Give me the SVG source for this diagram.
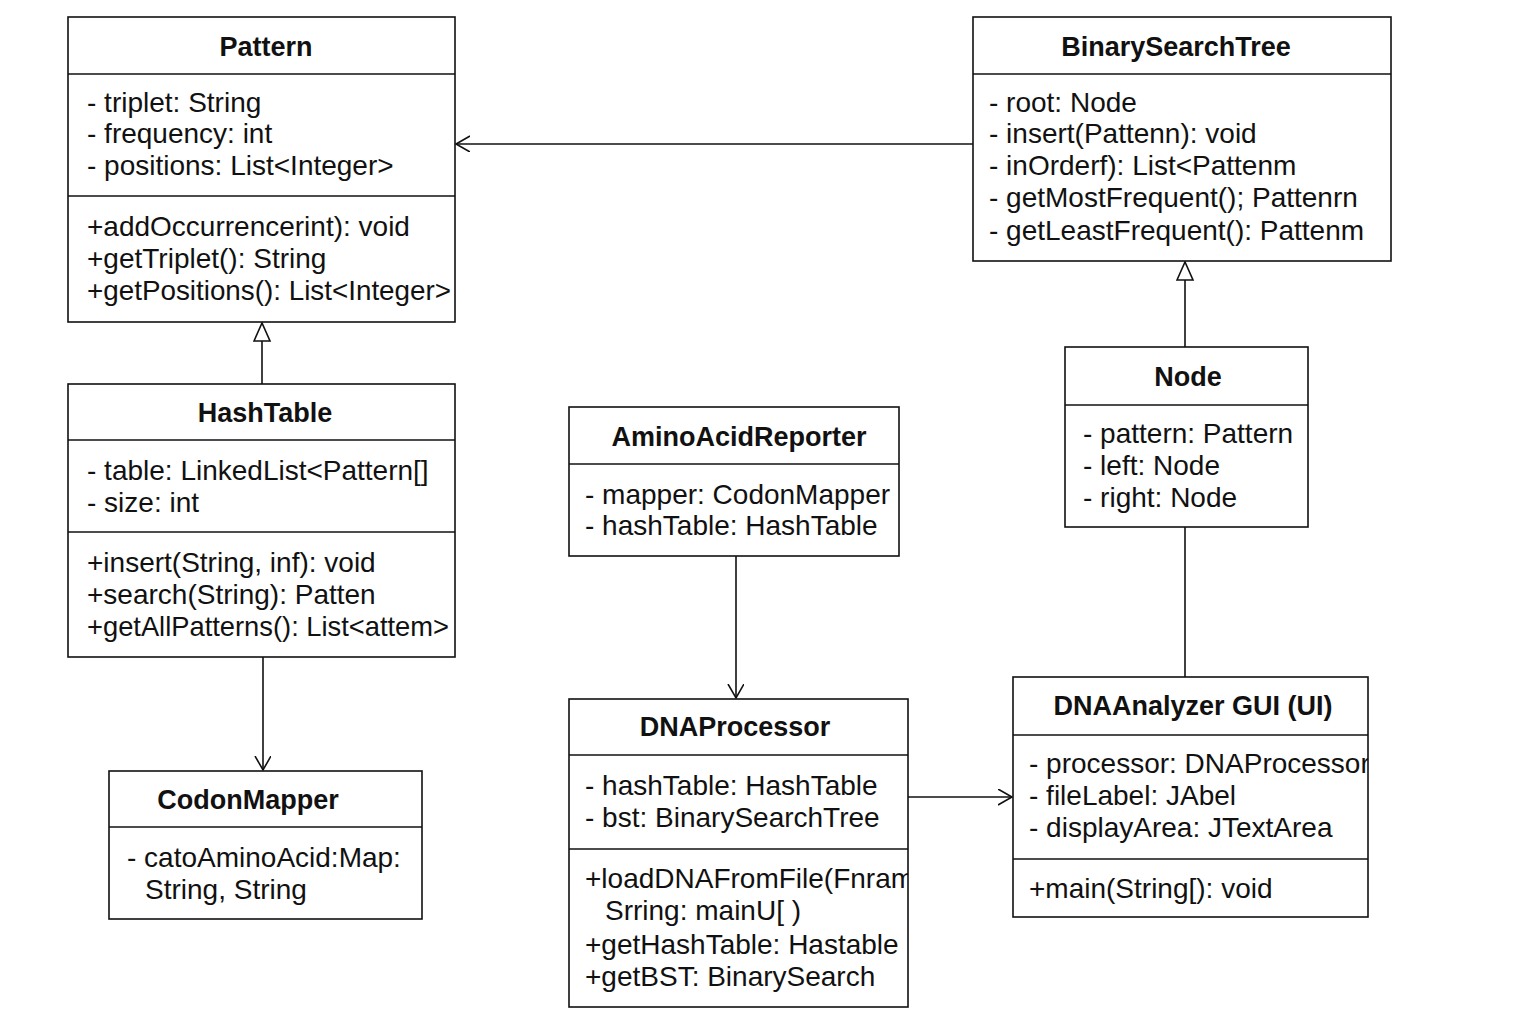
<svg xmlns="http://www.w3.org/2000/svg" width="1536" height="1024" viewBox="0 0 1536 1024">
<style>
.box{fill:#fff;stroke:#111;stroke-width:1.6}
.ln{stroke:#111;stroke-width:1.6}
.t{font-family:"Liberation Sans",Arial,sans-serif;font-size:28px;fill:#111;dominant-baseline:central}
.h{font-family:"Liberation Sans",Arial,sans-serif;font-size:27px;font-weight:bold;fill:#111;text-anchor:middle;dominant-baseline:central}
.c{fill:none;stroke:#111;stroke-width:1.6}
</style>
<defs>
<marker id="open" markerWidth="20" markerHeight="20" refX="14" refY="8" orient="auto" markerUnits="userSpaceOnUse">
<path d="M0,0 L14,8 L0,16" fill="none" stroke="#111" stroke-width="1.6"/>
</marker>
<marker id="tri" markerWidth="24" markerHeight="24" refX="19" refY="9" orient="auto" markerUnits="userSpaceOnUse">
<path d="M1,1 L19,9 L1,17 Z" fill="#fff" stroke="#111" stroke-width="1.6"/>
</marker>
<clipPath id="clipP"><rect x="569" y="699" width="339" height="308"/></clipPath>
<clipPath id="clipG"><rect x="1013" y="677" width="355" height="240"/></clipPath>
</defs>
<rect width="1536" height="1024" fill="#fff"/>
<g id="connectors">
<line class="c" x1="973" y1="144" x2="456" y2="144" marker-end="url(#open)"/>
<line class="c" x1="262" y1="384" x2="262" y2="323" marker-end="url(#tri)"/>
<line class="c" x1="263" y1="657" x2="263" y2="770" marker-end="url(#open)"/>
<line class="c" x1="736" y1="556" x2="736" y2="698" marker-end="url(#open)"/>
<line class="c" x1="908" y1="797" x2="1012" y2="797" marker-end="url(#open)"/>
<line class="c" x1="1185" y1="347" x2="1185" y2="262" marker-end="url(#tri)"/>
<line class="c" x1="1185" y1="527" x2="1185" y2="677"/>
</g>
<g id="Pattern">
<rect class="box" x="68" y="17" width="387" height="305"/>
<line class="ln" x1="68" y1="74" x2="455" y2="74"/>
<line class="ln" x1="68" y1="196" x2="455" y2="196"/>
<text class="h" x="266" y="47">Pattern</text>
<text class="t" x="87" y="102">- triplet: String</text>
<text class="t" x="87" y="133">- frequency: int</text>
<text class="t" x="87" y="165">- positions: List&lt;Integer&gt;</text>
<text class="t" x="87" y="226">+addOccurrencerint): void</text>
<text class="t" x="87" y="258">+getTriplet(): String</text>
<text class="t" x="87" y="290" textLength="364" lengthAdjust="spacingAndGlyphs">+getPositions(): List&lt;Integer&gt;</text>
</g>
<g id="BinarySearchTree">
<rect class="box" x="973" y="17" width="418" height="244"/>
<line class="ln" x1="973" y1="74" x2="1391" y2="74"/>
<text class="h" x="1176" y="47">BinarySearchTree</text>
<text class="t" x="989" y="102">- root: Node</text>
<text class="t" x="989" y="133">- insert(Pattenn): void</text>
<text class="t" x="989" y="165">- inOrderf): List&lt;Pattenm</text>
<text class="t" x="989" y="197">- getMostFrequent(); Pattenrn</text>
<text class="t" x="989" y="230">- getLeastFrequent(): Pattenm</text>
</g>
<g id="HashTable">
<rect class="box" x="68" y="384" width="387" height="273"/>
<line class="ln" x1="68" y1="440" x2="455" y2="440"/>
<line class="ln" x1="68" y1="532" x2="455" y2="532"/>
<text class="h" x="265" y="413">HashTable</text>
<text class="t" x="87" y="470">- table: LinkedList&lt;Pattern[]</text>
<text class="t" x="87" y="502">- size: int</text>
<text class="t" x="87" y="562">+insert(String, inf): void</text>
<text class="t" x="87" y="594">+search(String): Patten</text>
<text class="t" x="87" y="626" textLength="362" lengthAdjust="spacingAndGlyphs">+getAllPatterns(): List&lt;attem&gt;</text>
</g>
<g id="CodonMapper">
<rect class="box" x="109" y="771" width="313" height="148"/>
<line class="ln" x1="109" y1="827" x2="422" y2="827"/>
<text class="h" x="248" y="800">CodonMapper</text>
<text class="t" x="127" y="857">- catoAminoAcid:Map:</text>
<text class="t" x="145" y="889">String, String</text>
</g>
<g id="AminoAcidReporter">
<rect class="box" x="569" y="407" width="330" height="149"/>
<line class="ln" x1="569" y1="464" x2="899" y2="464"/>
<text class="h" x="739" y="437">AminoAcidReporter</text>
<text class="t" x="585" y="494">- mapper: CodonMapper</text>
<text class="t" x="585" y="525">- hashTable: HashTable</text>
</g>
<g id="DNAProcessor">
<rect class="box" x="569" y="699" width="339" height="308"/>
<line class="ln" x1="569" y1="755" x2="908" y2="755"/>
<line class="ln" x1="569" y1="849" x2="908" y2="849"/>
<text class="h" x="735" y="727">DNAProcessor</text>
<text class="t" x="585" y="785">- hashTable: HashTable</text>
<text class="t" x="585" y="817">- bst: BinarySearchTree</text>
<g clip-path="url(#clipP)">
<text class="t" x="585" y="878">+loadDNAFromFile(Fnram</text>
</g>
<text class="t" x="605" y="910">Srring: mainU[ )</text>
<text class="t" x="585" y="944">+getHashTable: Hastable</text>
<text class="t" x="585" y="976">+getBST: BinarySearch</text>
</g>
<g id="Node">
<rect class="box" x="1065" y="347" width="243" height="180"/>
<line class="ln" x1="1065" y1="405" x2="1308" y2="405"/>
<text class="h" x="1188" y="377">Node</text>
<text class="t" x="1083" y="433">- pattern: Pattern</text>
<text class="t" x="1083" y="465">- left: Node</text>
<text class="t" x="1083" y="497">- right: Node</text>
</g>
<g id="DNAAnalyzerGUI">
<rect class="box" x="1013" y="677" width="355" height="240"/>
<line class="ln" x1="1013" y1="735" x2="1368" y2="735"/>
<line class="ln" x1="1013" y1="859" x2="1368" y2="859"/>
<text class="h" x="1193" y="706">DNAAnalyzer GUI (UI)</text>
<g clip-path="url(#clipG)">
<text class="t" x="1029" y="763">- processor: DNAProcessor</text>
</g>
<text class="t" x="1029" y="795">- fileLabel: JAbel</text>
<text class="t" x="1029" y="827">- displayArea: JTextArea</text>
<text class="t" x="1029" y="888">+main(String[): void</text>
</g>
</svg>
